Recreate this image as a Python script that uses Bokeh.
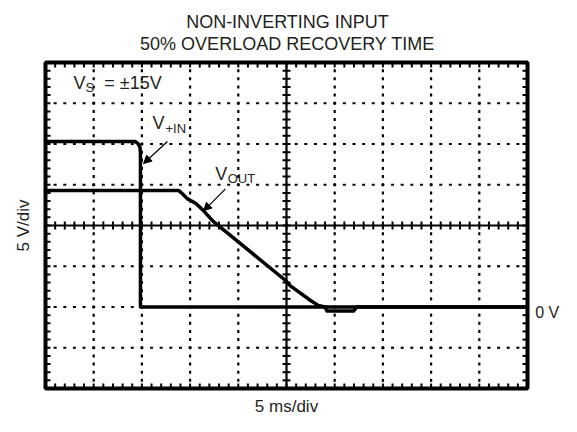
import numpy as np
from bokeh.plotting import figure
from bokeh.models import Range1d, Label, Arrow, NormalHead
from bokeh.embed import file_html
from bokeh.resources import INLINE

# ---- text ----
title_lines = ["NON-INVERTING INPUT", "50% OVERLOAD RECOVERY TIME"]
x_label = "5 ms/div"
y_label = "5 V/div"
zero_label = "0 V"

# ---- traces (time in ms, voltage in V) ----
vin_t = [0, 9.3, 9.6, 9.8, 9.85, 9.85, 50]
vin_v = [20.3, 20.3, 20.05, 19.6, 18.95, 0, 0]

vout_t = [0, 13.8, 14.2, 14.7, 15.6, 16.4, 17.4, 24.9, 25.4, 27.5, 28.3, 29.0, 29.2, 31.95, 32.3, 50]
vout_v = [14.3, 14.3, 13.9, 13.3, 12.7, 11.8, 10.5, 3.25, 2.6, 0.8, 0.2, 0.0, -0.5, -0.5, 0.0, 0.0]

# ---- scope screen (5 ms/div x 10 div, 5 V/div x 8 div) ----
T_MIN, T_MAX, T_DIV = 0, 50, 5
V_MIN, V_MAX, V_DIV = -10, 30, 5
T_CENTER, V_CENTER = 25, 10

W, H = 561, 416
SCR_L, SCR_R, SCR_T, SCR_B = 45, 527, 62, 388       # screen box in canvas pixels
px_t = (SCR_R - SCR_L) / (T_MAX - T_MIN)            # pixels per ms
px_v = (SCR_B - SCR_T) / (V_MAX - V_MIN)            # pixels per V

FONT = "Liberation Sans"
INK = "#231f20"

p = figure(width=W, height=H, output_backend="svg", toolbar_location=None,
           x_range=Range1d(T_MIN - SCR_L / px_t, T_MAX + (W - SCR_R) / px_t),
           y_range=Range1d(V_MIN - (H - SCR_B) / px_v, V_MAX + SCR_T / px_v),
           x_axis_location=None, y_axis_location=None,
           min_border=0, background_fill_color="white", border_fill_color="white")
p.outline_line_color = None
for g in p.grid:
    g.visible = False

t_minor = np.arange(T_MIN, T_MAX + 0.001, T_DIV / 5)
v_minor = np.arange(V_MIN, V_MAX + 0.001, V_DIV / 5)
t_major = [t for t in np.arange(T_MIN + T_DIV, T_MAX, T_DIV) if t != T_CENTER]
v_major = [v for v in np.arange(V_MIN + V_DIV, V_MAX, V_DIV) if v != V_CENTER]

# dotted graticule: short dashes along each grid line
hx, hy, vx, vy = [], [], [], []
for t in t_major:
    for v in v_minor[1:-1]:
        vx.append(t); vy.append(v)
for v in v_major:
    for t in t_minor[1:-1]:
        hx.append(t); hy.append(v)
p.scatter(hx, hy, marker="dash", size=3, line_color="black", line_width=2.2)
p.scatter(vx, vy, marker="dash", angle=np.pi / 2, size=3, line_color="black", line_width=2.2)

# centre cross lines with ticks
p.line([T_CENTER, T_CENTER], [V_MIN, V_MAX], line_color="black", line_width=2.2)
p.line([T_MIN, T_MAX], [V_CENTER, V_CENTER], line_color="black", line_width=2.2)
p.scatter([T_CENTER] * len(v_minor), v_minor, marker="dash", size=8, line_color="black", line_width=2)
p.scatter(t_minor, [V_CENTER] * len(t_minor), marker="dash", angle=np.pi / 2, size=8,
          line_color="black", line_width=2)

# edge ticks (pointing inward)
tl_t = 5 / px_t
tl_v = 5 / px_v
p.segment(x0=[T_MIN] * len(v_minor), y0=v_minor, x1=[T_MIN + tl_t] * len(v_minor), y1=v_minor,
          line_color="black", line_width=2)
p.segment(x0=[T_MAX] * len(v_minor), y0=v_minor, x1=[T_MAX - tl_t] * len(v_minor), y1=v_minor,
          line_color="black", line_width=2)
p.segment(x0=t_minor, y0=[V_MIN] * len(t_minor), x1=t_minor, y1=[V_MIN + tl_v] * len(t_minor),
          line_color="black", line_width=2)
p.segment(x0=t_minor, y0=[V_MAX] * len(t_minor), x1=t_minor, y1=[V_MAX - tl_v] * len(t_minor),
          line_color="black", line_width=2)

# screen border
p.quad(left=[T_MIN], right=[T_MAX], bottom=[V_MIN], top=[V_MAX], fill_color=None,
       line_color="black", line_width=4)

# traces
p.line(vin_t, vin_v, line_color="black", line_width=3.5, line_join="round")
p.line(vout_t, vout_v, line_color="black", line_width=3.5, line_join="round")

# annotations
def lab(x, y, text, size, **kw):
    p.add_layout(Label(x=x, y=y, text=text, text_font=FONT, text_font_size=f"{size}px",
                       text_color=INK, **kw))

lab(25.1, 35.03, title_lines[0], 18, text_align="center", text_baseline="alphabetic")
lab(25.1, 32.33, title_lines[1], 18, text_align="center", text_baseline="alphabetic")
lab(25, -12.2, x_label, 17, text_align="center", text_baseline="alphabetic")
lab(-2.28, 10, y_label, 17, text_align="center", text_baseline="alphabetic", angle=np.pi / 2)
lab(50.8, -0.67, zero_label, 16, text_align="left", text_baseline="alphabetic")

# V_S = ±15V
lab(2.9, 26.3, "V", 18)
lab(4.15, 26.0, "S", 13)
lab(6.1, 26.3, "= ±15V", 18)
# V+IN
lab(11.1, 21.3, "V", 18)
lab(12.45, 21.0, "+IN", 13)
# VOUT
lab(17.6, 15.15, "V", 18)
lab(18.9, 14.85, "OUT", 13)

p.add_layout(Arrow(end=NormalHead(size=8, fill_color="black", line_color="black"),
                   x_start=12.65, y_start=20.3, x_end=10.17, y_end=17.6,
                   line_color="black", line_width=1.2))
p.add_layout(Arrow(end=NormalHead(size=8, fill_color="black", line_color="black"),
                   x_start=18.67, y_start=14.5, x_end=16.4, y_end=11.8,
                   line_color="black", line_width=1.2))

open("out.html", "w").write(file_html(p, INLINE))
